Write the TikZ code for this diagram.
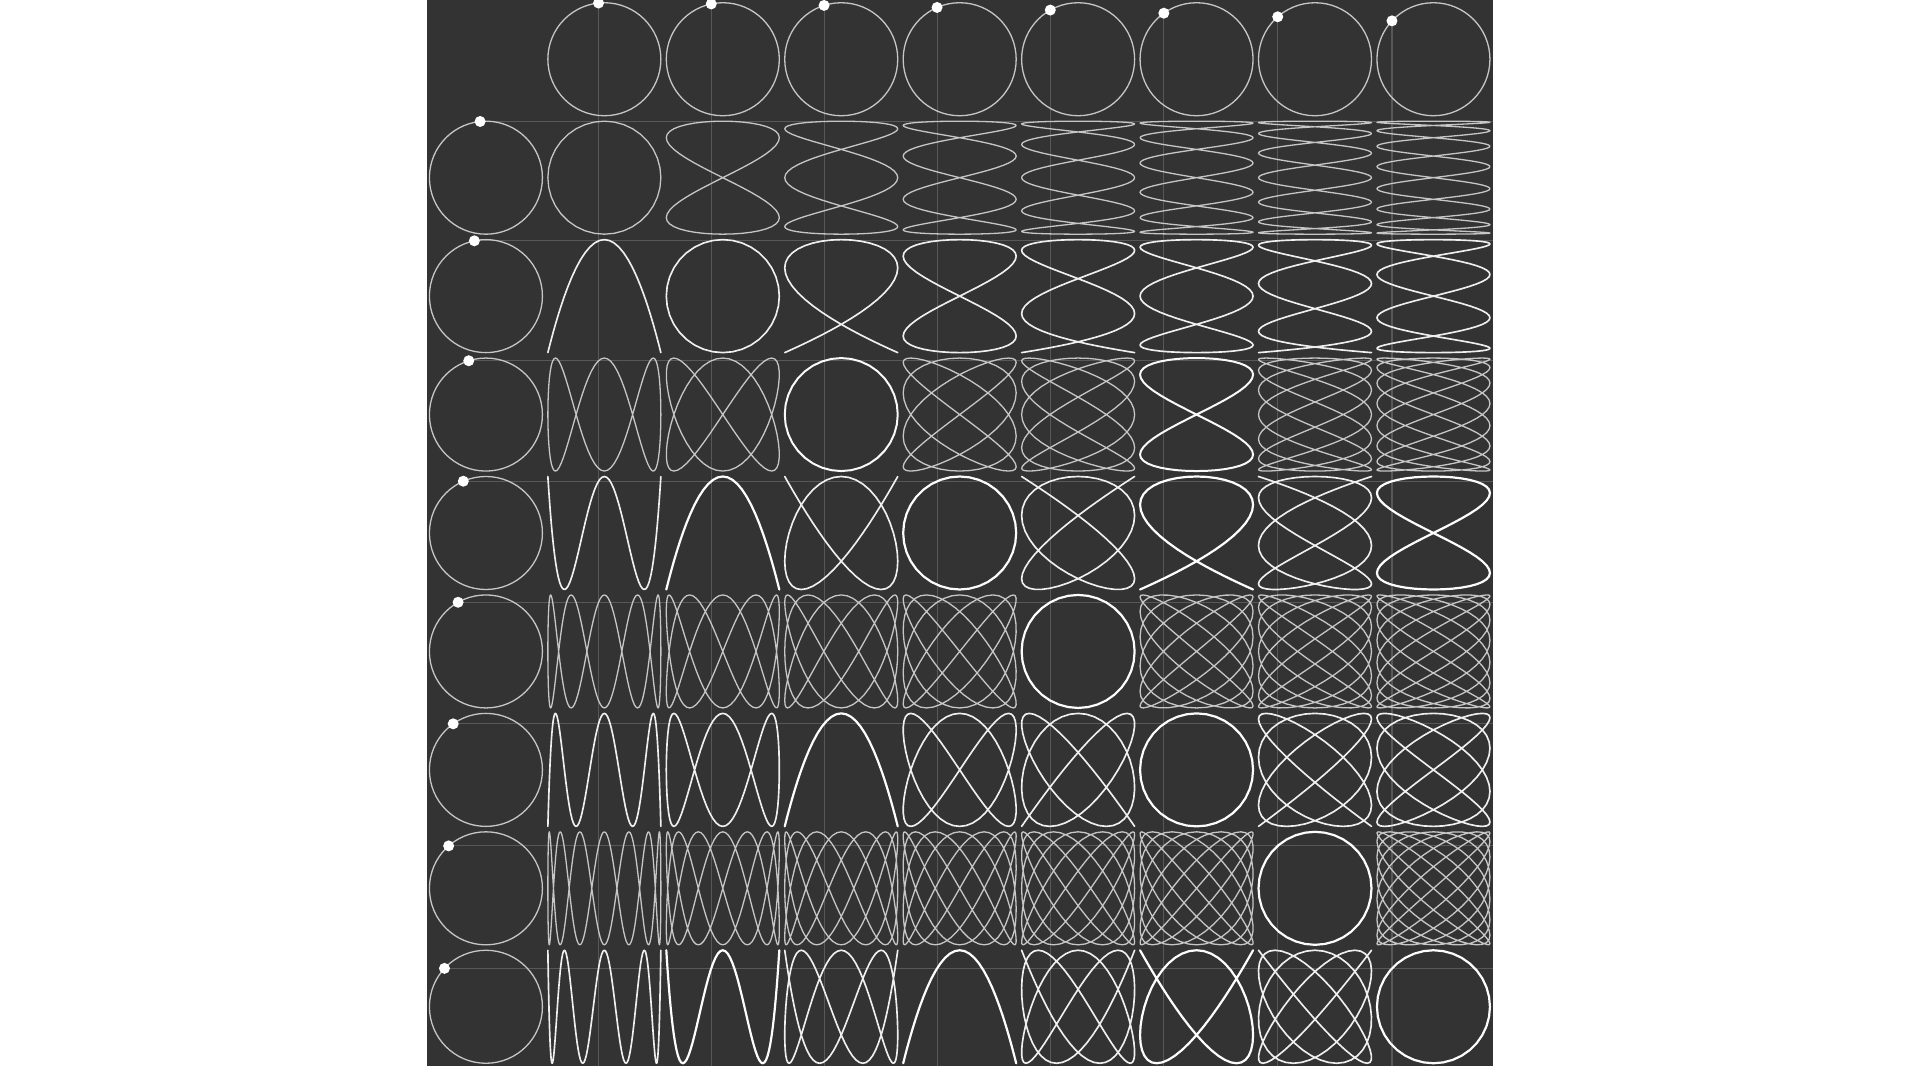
\documentclass[tikz,border=0pt]{standalone}
\usepackage{tikz}
\usetikzlibrary{calc}

\definecolor{board}{HTML}{333333}

\tikzset{
  guideline/.style={draw=white!18!board, line width=0.11mm},
  ring/.style={draw=white!72!board, line width=0.13mm},
  marker/.style={fill=white},
  trace/.style={line width=#1, line join=round},
}

\begin{document}
\begin{tikzpicture}[x=0.1mm,y=-0.1mm]

% Page size (white margins round the board)
\useasboundingbox (0,0) rectangle (1920,1080);

% Board geometry
\def\gridX{426.7}   % left edge of the board
\def\boardW{1066}   % board is square
\def\cellW{118.44}  % 9 cells across
\def\rad{56.5}      % circle radius
\def\tick{5.9}      % angle step of the markers

\fill[board] (\gridX,0) rectangle (\gridX+\boardW,\boardW);
\coordinate (bottom) at (0,\boardW);
\coordinate (right) at (\gridX+\boardW,0);

% Guide lines from the markers
\foreach \i in {1,...,8} {
    \pgfmathsetmacro\ctr{(\i+0.5)*\cellW}
    \coordinate (colDot\i) at ({\gridX+\ctr-\rad*sin(\i*\tick)}, {0.5*\cellW-\rad*cos(\i*\tick)});
    \coordinate (rowDot\i) at ({\gridX+0.5*\cellW-\rad*sin(\i*\tick)}, {\ctr-\rad*cos(\i*\tick)});
    \draw[guideline] (colDot\i) -- (colDot\i |- bottom);
    \draw[guideline] (rowDot\i) -- (rowDot\i -| right);
}

% Lissajous curves: x follows the column, y follows the row
\foreach \row in {1,...,8} {
    \foreach \col in {1,...,8} {
        \pgfmathtruncatemacro\g{gcd(\row,\col)}
        \pgfmathtruncatemacro\cc{\col/\g}
        \pgfmathtruncatemacro\rr{\row/\g}
        \pgfmathtruncatemacro\m{\g*(1+and(isodd(\cc),iseven(\rr)))}
        \pgfmathtruncatemacro\lit{100*(1-0.28^\m)}
        \pgfmathsetmacro\lw{min(0.13+0.035*(\m-1),0.22)}
        \pgfmathtruncatemacro\n{36*max(\cc,\rr)+1}
        \pgfmathsetmacro\cx{\gridX+(\col+0.5)*\cellW}
        \pgfmathsetmacro\cy{(\row+0.5)*\cellW}
        \draw[trace=\lw mm, draw=white!\lit!board]
            plot[domain=0:360, samples=\n, variable=\ang]
            ({\cx+\rad*sin(\cc*\ang)}, {\cy-\rad*cos(\rr*\ang)});
    }
}

% Reference circles (top row and left column) with markers
\foreach \i in {1,...,8} {
    \pgfmathsetmacro\ctr{(\i+0.5)*\cellW}
    \draw[ring] (\gridX+\ctr, 0.5*\cellW) circle[radius=\rad];
    \draw[ring] (\gridX+0.5*\cellW, \ctr) circle[radius=\rad];
    \fill[marker] (colDot\i) circle[radius=5.5];
    \fill[marker] (rowDot\i) circle[radius=5.5];
}

\end{tikzpicture}
\end{document}
